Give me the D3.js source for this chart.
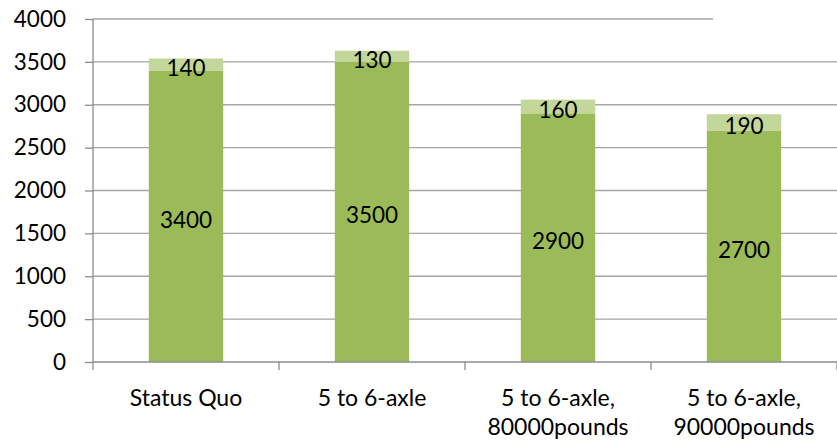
<!DOCTYPE html>
<html>
<head>
<meta charset="utf-8">
<script src="https://cdn.jsdelivr.net/npm/d3@7"></script>
<style>
  html, body { margin: 0; padding: 0; background: #fff; }
  svg { display: block; font-family: Lato, "Open Sans", sans-serif; }
</style>
</head>
<body>
<svg id="chart" width="837" height="443"></svg>
<script>
// Stacked bar data: base amount plus the additional amount on top
const categories = [["Status Quo"], ["5 to 6-axle"], ["5 to 6-axle,", "80000pounds"], ["5 to 6-axle,", "90000pounds"]];
const baseValues = [3400, 3500, 2900, 2700];
const extraValues = [140, 130, 160, 190];
const yTicks = [0, 500, 1000, 1500, 2000, 2500, 3000, 3500, 4000];

const svg = d3.select("#chart");
const plotLeft = 93, plotRight = 837, plotTop = 19, plotBottom = 362;
const numSize = 22.5, catSize = 23;

const x = d3.scaleBand().domain(d3.range(categories.length)).range([plotLeft, plotRight]).padding(0);
const y = d3.scaleLinear().domain([0, 4000]).range([plotBottom, plotTop]);
const barW = x.bandwidth() * 0.4;

// Horizontal gridlines (the 4000 line stops short on the right)
svg.append("g").selectAll("line").data(yTicks.filter(d => d > 0)).join("line")
  .attr("x1", plotLeft).attr("x2", d => d === 4000 ? 713 : plotRight)
  .attr("y1", d => y(d)).attr("y2", d => y(d))
  .attr("stroke", "#a6a6a6").attr("stroke-width", 1.3);

// Bars
const g = svg.append("g");
categories.forEach((c, i) => {
  const x0 = x(i) + (x.bandwidth() - barW) / 2;
  g.append("rect").attr("x", x0).attr("width", barW)
    .attr("y", y(baseValues[i])).attr("height", y(0) - y(baseValues[i]))
    .attr("fill", "#9bbb59");
  g.append("rect").attr("x", x0).attr("width", barW)
    .attr("y", y(baseValues[i] + extraValues[i])).attr("height", y(baseValues[i]) - y(baseValues[i] + extraValues[i]))
    .attr("fill", "#c4d79b");
});

// Axes
const yAxis = d3.axisLeft(y).tickValues(yTicks).tickFormat(d3.format("d")).tickSize(8).tickPadding(19);
const ya = svg.append("g").attr("transform", `translate(${plotLeft},0)`).call(yAxis);
ya.select(".domain").attr("stroke", "#8c8c8c").attr("stroke-width", 1.3).attr("d", `M0,${plotTop}V${plotBottom}`);
ya.selectAll(".tick line").attr("stroke", "#8c8c8c").attr("stroke-width", 1.3);
ya.selectAll(".tick text").attr("font-size", numSize).attr("fill", "#000")
  .attr("font-family", "Lato, 'Open Sans', sans-serif");

// X axis line and category boundary ticks
svg.append("line").attr("x1", plotLeft).attr("x2", plotRight).attr("y1", plotBottom).attr("y2", plotBottom)
  .attr("stroke", "#8c8c8c").attr("stroke-width", 1.3);
svg.append("g").selectAll("line").data(d3.range(categories.length + 1)).join("line")
  .attr("x1", d => plotLeft + d * x.bandwidth()).attr("x2", d => plotLeft + d * x.bandwidth())
  .attr("y1", plotBottom).attr("y2", plotBottom + 8)
  .attr("stroke", "#8c8c8c").attr("stroke-width", 1.3);

// Category labels
categories.forEach((c, i) => {
  const t = svg.append("text").attr("text-anchor", "middle").attr("font-size", catSize).attr("fill", "#000");
  c.forEach((line, j) => {
    t.append("tspan").attr("x", x(i) + x.bandwidth() / 2).attr("y", 406 + j * 29).text(line);
  });
});

// Value labels centred in each segment
categories.forEach((c, i) => {
  svg.append("text").attr("text-anchor", "middle").attr("dominant-baseline", "central")
    .attr("font-size", numSize).attr("fill", "#000")
    .attr("x", x(i) + x.bandwidth() / 2).attr("y", y(baseValues[i] / 2) + 3)
    .text(baseValues[i]);
  svg.append("text").attr("text-anchor", "middle").attr("dominant-baseline", "central")
    .attr("font-size", numSize).attr("fill", "#000")
    .attr("x", x(i) + x.bandwidth() / 2).attr("y", y(baseValues[i] + extraValues[i] / 2) + 3)
    .text(extraValues[i]);
});
</script>
</body>
</html>
